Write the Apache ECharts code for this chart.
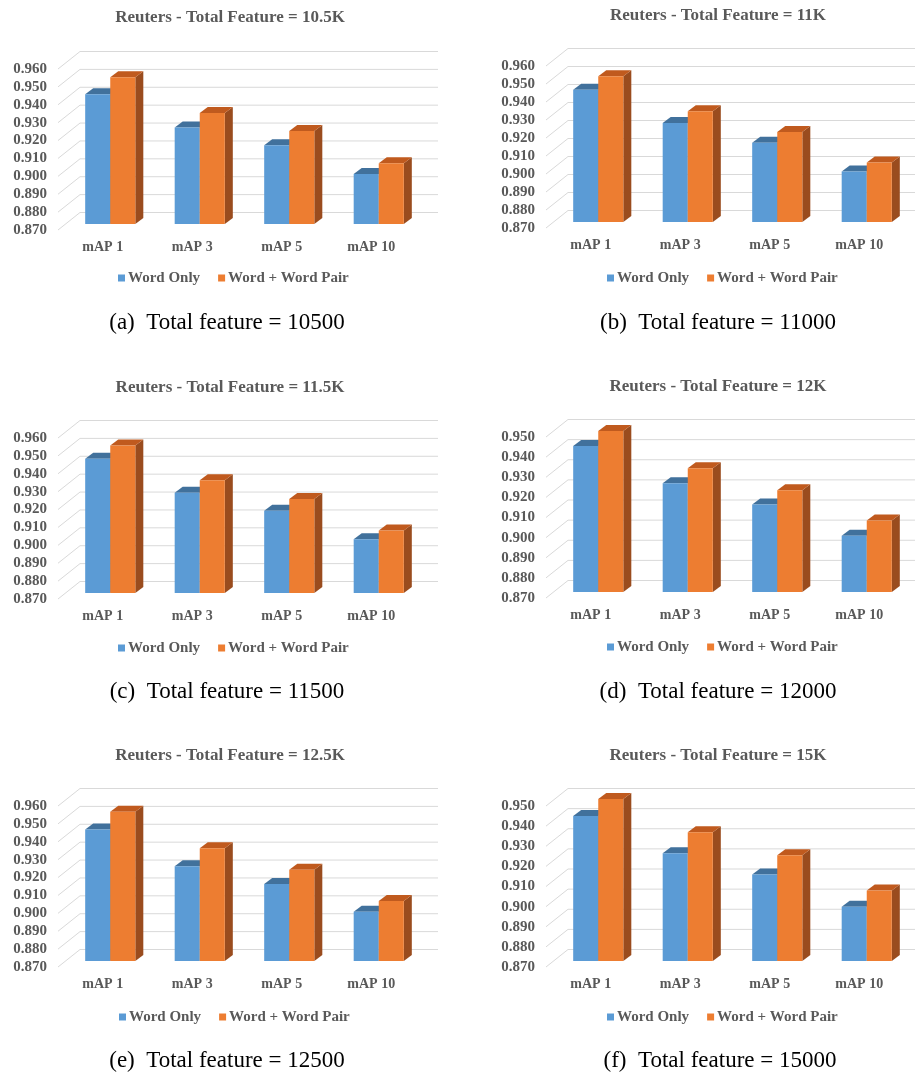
<!DOCTYPE html>
<html>
<head>
<meta charset="utf-8">
<script src="https://cdn.jsdelivr.net/npm/echarts@6/dist/echarts.min.js"></script>
<style>
html,body{margin:0;padding:0;background:#ffffff;}
#chart{width:915px;height:1074px;}
</style>
</head>
<body>
<div id="chart"></div>
<script>
// ---------- data ----------
const categories = ['mAP 1', 'mAP 3', 'mAP 5', 'mAP 10'];
const seriesNames = ['Word Only', 'Word + Word Pair'];
const chartTitles = [
  'Reuters - Total Feature = 10.5K',
  'Reuters - Total Feature = 11K',
  'Reuters - Total Feature = 11.5K',
  'Reuters - Total Feature = 12K',
  'Reuters - Total Feature = 12.5K',
  'Reuters - Total Feature = 15K'
];
const captions = [
  '(a)  Total feature = 10500',
  '(b)  Total feature = 11000',
  '(c)  Total feature = 11500',
  '(d)  Total feature = 12000',
  '(e)  Total feature = 12500',
  '(f)  Total feature = 15000'
];
const yMin = 0.870;
const yMax = [0.960, 0.960, 0.960, 0.950, 0.960, 0.950];
const yStep = 0.010;

const wordOnly10500 = [0.9425, 0.924, 0.914, 0.898];
const wordPair10500 = [0.952, 0.932, 0.922, 0.904];
const wordOnly11000 = [0.9435, 0.925, 0.914, 0.898];
const wordPair11000 = [0.951, 0.9315, 0.920, 0.903];
const wordOnly11500 = [0.945, 0.926, 0.916, 0.900];
const wordPair11500 = [0.9525, 0.933, 0.9225, 0.905];
const wordOnly12000 = [0.9425, 0.924, 0.9135, 0.898];
const wordPair12000 = [0.950, 0.9315, 0.9205, 0.9055];
const wordOnly12500 = [0.9435, 0.923, 0.913, 0.8975];
const wordPair12500 = [0.9535, 0.933, 0.921, 0.9035];
const wordOnly15000 = [0.942, 0.9235, 0.913, 0.897];
const wordPair15000 = [0.9505, 0.934, 0.9225, 0.905];

const panelSeries = [
  [wordOnly10500, wordPair10500],
  [wordOnly11000, wordPair11000],
  [wordOnly11500, wordPair11500],
  [wordOnly12000, wordPair12000],
  [wordOnly12500, wordPair12500],
  [wordOnly15000, wordPair15000]
];

// ---------- layout / style ----------
const layout = [
  {gx: 58,  gt: 69,  gh: 161, tx: 230, ty: 18,  lx: 118, ly: 278,  cx: 227, cy: 323},
  {gx: 546, gt: 66,  gh: 162, tx: 718, ty: 16,  lx: 607, ly: 278,  cx: 718, cy: 323},
  {gx: 58,  gt: 438, gh: 161, tx: 230, ty: 388, lx: 118, ly: 648,  cx: 227, cy: 692},
  {gx: 546, gt: 437, gh: 161, tx: 718, ty: 387, lx: 607, ly: 647,  cx: 718, cy: 692},
  {gx: 58,  gt: 806, gh: 161, tx: 230, ty: 756, lx: 119, ly: 1017, cx: 227, cy: 1061},
  {gx: 546, gt: 806, gh: 161, tx: 718, ty: 756, lx: 607, ly: 1017, cx: 720, cy: 1061}
];
const gridWidth = 358;
const WALL_DX = 22, WALL_DY = -17.5;   // back wall offset
const BAR_DX = 7.5, BAR_DY = -6;       // bar front face offset
const SIDE_DX = 8, SIDE_DY = -6;       // bar depth
const FONT = '"Liberation Serif", "Times New Roman", serif';
const TXT = '#595959';
const colors = [
  {front: '#5B9BD5', top: '#41719C', side: '#3D6B95'},
  {front: '#ED7D31', top: '#C05A1E', side: '#9A4C1E'}
];

function barRenderer(si) {
  const c = colors[si];
  return function (params, api) {
    const ci = api.value(0), v = api.value(1);
    const pTop = api.coord([ci, v]);
    const pBot = api.coord([ci, yMin]);
    const band = api.size([1, 0])[0];
    const bw = band * 0.28;
    const x0 = pTop[0] + (si === 0 ? -bw : 0) + BAR_DX;
    const yT = pTop[1] + BAR_DY, yB = pBot[1] + BAR_DY;
    return {
      type: 'group',
      children: [
        {type: 'polygon', shape: {points: [[x0 + bw, yT], [x0 + bw + SIDE_DX, yT + SIDE_DY], [x0 + bw + SIDE_DX, yB + SIDE_DY], [x0 + bw, yB]]}, style: {fill: c.side}},
        {type: 'polygon', shape: {points: [[x0, yT], [x0 + bw, yT], [x0 + bw + SIDE_DX, yT + SIDE_DY], [x0 + SIDE_DX, yT + SIDE_DY]]}, style: {fill: c.top}},
        {type: 'rect', shape: {x: x0, y: yT, width: bw, height: yB - yT}, style: {fill: c.front}}
      ]
    };
  };
}

function gridRenderer(params, api) {
  const cs = params.coordSys;
  const y = api.coord([0, api.value(1)])[1];
  const xl = cs.x, xr = cs.x + cs.width;
  return {
    type: 'polyline',
    shape: {points: [[xl, y], [xl + WALL_DX, y + WALL_DY], [xr + WALL_DX, y + WALL_DY]]},
    style: {stroke: '#D9D9D9', lineWidth: 1, fill: null}
  };
}

const option = {
  animation: false,
  backgroundColor: '#ffffff',
  title: [],
  legend: [],
  grid: [],
  xAxis: [],
  yAxis: [],
  series: []
};

layout.forEach((L, p) => {
  option.title.push({
    text: chartTitles[p], left: L.tx, top: L.ty - 10, textAlign: 'center', padding: 0,
    textStyle: {fontFamily: FONT, fontSize: 17, fontWeight: 'bold', color: TXT, lineHeight: 20}
  });
  option.title.push({
    text: captions[p], left: L.cx, top: L.cy - 14, textAlign: 'center', padding: 0,
    textStyle: {fontFamily: FONT, fontSize: 23, fontWeight: 'normal', color: '#000000', lineHeight: 27}
  });
  option.legend.push({
    data: seriesNames, left: L.lx, top: L.ly - 8, padding: 0,
    icon: 'rect', itemWidth: 7, itemHeight: 7, itemGap: 18, selectedMode: false,
    textStyle: {fontFamily: FONT, fontSize: 15, fontWeight: 'bold', color: TXT, lineHeight: 16, padding: [0, 0, 0, -2]}
  });
  option.grid.push({left: L.gx, top: L.gt, width: gridWidth, height: L.gh});
  option.xAxis.push({
    type: 'category', gridIndex: p, data: categories,
    axisLine: {show: false}, axisTick: {show: false},
    axisLabel: {fontFamily: FONT, fontSize: 14, fontWeight: 'bold', color: TXT, margin: 10}
  });
  option.yAxis.push({
    type: 'value', gridIndex: p, min: yMin, max: yMax[p], interval: yStep,
    axisLine: {show: false}, axisTick: {show: false}, splitLine: {show: false},
    axisLabel: {fontFamily: FONT, fontSize: 15, fontWeight: 'bold', color: TXT, margin: 11,
      formatter: v => v.toFixed(3)}
  });
  const ticks = [];
  const n = Math.round((yMax[p] - yMin) / yStep);
  for (let i = 0; i <= n; i++) ticks.push([0, +(yMin + i * yStep).toFixed(3)]);
  option.series.push({
    type: 'custom', name: 'grid' + p, xAxisIndex: p, yAxisIndex: p, silent: true, z: 1,
    renderItem: gridRenderer, data: ticks, encode: {x: 0, y: 1}
  });
  panelSeries[p].forEach((vals, si) => {
    option.series.push({
      type: 'custom', name: seriesNames[si], xAxisIndex: p, yAxisIndex: p, z: 2 + si,
      itemStyle: {color: colors[si].front},
      renderItem: barRenderer(si),
      data: vals.map((v, i) => [i, v]),
      encode: {x: 0, y: 1}
    });
  });
});

const chart = echarts.init(document.getElementById('chart'), null, {renderer: 'canvas'});
chart.setOption(option);
</script>
</body>
</html>
